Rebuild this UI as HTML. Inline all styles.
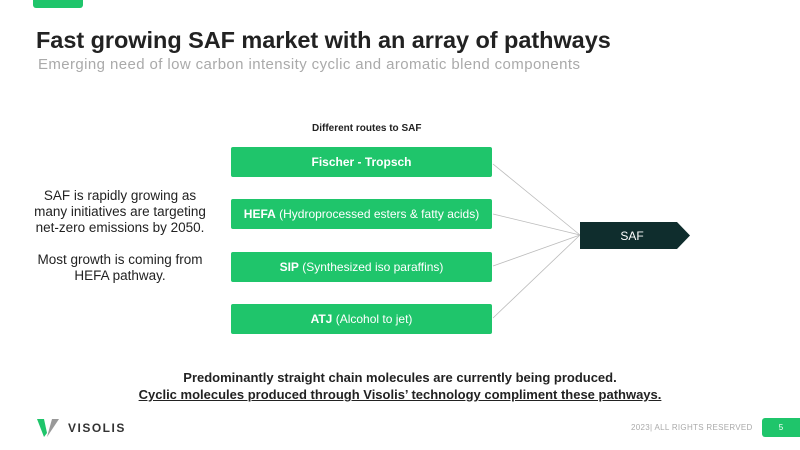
<!DOCTYPE html>
<html><head><style>
body{margin:0;width:800px;height:450px;background:#fff;position:relative;overflow:hidden;font-family:"Liberation Sans",sans-serif;}
.a{position:absolute;}
.box{position:absolute;left:231px;width:261px;height:30px;background:#1fc56b;color:#fff;font-size:12px;line-height:30px;text-align:center;border-radius:2px;}
</style></head><body>
<div class="a" style="left:33px;top:0;width:50px;height:8px;background:#1fc56b;border-radius:0 0 3px 3px"></div>
<div class="a" style="left:36px;top:27px;font-size:23.5px;font-weight:bold;color:#222;letter-spacing:-0.05px">Fast growing SAF market with an array of pathways</div>
<div class="a" style="left:38px;top:56px;font-size:15px;color:#aaa;letter-spacing:0.4px">Emerging need of low carbon intensity cyclic and aromatic blend components</div>
<div class="a" style="left:312px;top:123px;font-size:10px;font-weight:bold;color:#222">Different routes to SAF</div>
<div class="box" style="top:147px;font-weight:bold">Fischer - Tropsch</div>
<div class="box" style="top:199px"><b>HEFA</b> (Hydroprocessed esters &amp; fatty acids)</div>
<div class="box" style="top:252px"><b>SIP</b> (Synthesized iso paraffins)</div>
<div class="box" style="top:304px"><b>ATJ</b> (Alcohol to jet)</div>
<svg class="a" style="left:0;top:0" width="800" height="450">
<g stroke="#bbb" stroke-width="0.8"><line x1="493" y1="164" x2="580" y2="235"/><line x1="493" y1="214" x2="580" y2="235"/><line x1="493" y1="266" x2="580" y2="235"/><line x1="493" y1="318" x2="580" y2="235"/></g>
<polygon points="580,222 677,222 690,235.5 677,249 580,249" fill="#0f2d2d"/>
<text x="632" y="240" fill="#fff" font-size="12" text-anchor="middle" font-family="Liberation Sans">SAF</text>
<path d="M37,419 L44,419 L47,433 L44,437 Z" fill="#1fc56b"/>
<path d="M52,419 L59,419 L47,437 Z" fill="#999"/>
</svg>
<div class="a" style="left:25px;top:188px;width:190px;text-align:center;font-size:13.5px;line-height:16px;color:#222">SAF is rapidly growing as<br>many initiatives are targeting<br>net-zero emissions by 2050.<br><br>Most growth is coming from<br>HEFA pathway.</div>
<div class="a" style="left:0;top:369px;width:800px;text-align:center;font-size:13px;font-weight:bold;color:#222;line-height:17px">Predominantly straight chain molecules are currently being produced.<br><u>Cyclic molecules produced through Visolis’ technology compliment these pathways.</u></div>
<div class="a" style="left:68px;top:421px;font-size:12px;font-weight:bold;letter-spacing:1.5px;color:#333">VISOLIS</div>
<div class="a" style="left:631px;top:423px;font-size:8px;color:#aaa;letter-spacing:0.3px">2023| ALL RIGHTS RESERVED</div>
<div class="a" style="left:762px;top:418px;width:38px;height:19px;background:#1fc56b;border-radius:3px 0 0 3px;color:#fff;font-size:8px;line-height:19px;text-align:center">5</div>
</body></html>
